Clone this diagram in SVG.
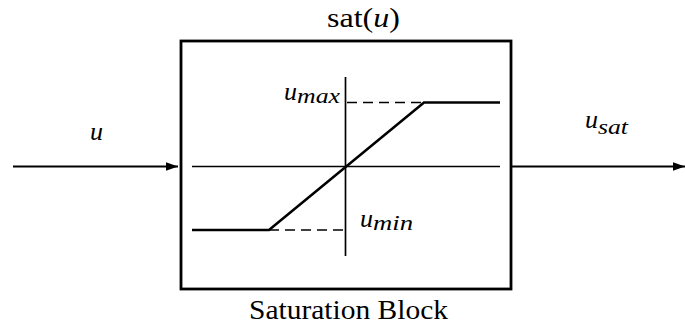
<svg xmlns="http://www.w3.org/2000/svg" width="685" height="327" viewBox="0 0 685 327">
<style>
text{font-family:"Liberation Serif","DejaVu Serif","Noto Serif",Tinos,FreeSerif,"Times New Roman",Times,serif;fill:#000}
.m{font-style:italic}
.rm{font-size:27px}
.ax{stroke:#000;stroke-width:1.7;fill:none}
.curve{stroke:#000;stroke-width:2.6;fill:none}
.dash{stroke:#000;stroke-width:1.7;stroke-dasharray:10,6;fill:none}
.arr{stroke:#000;stroke-width:2.2;fill:none}
</style>
<defs>
<marker id="ah" markerWidth="12" markerHeight="10" refX="12" refY="5" orient="auto" markerUnits="userSpaceOnUse">
<path d="M0,0.8 L12,5 L0,9.2 Z" fill="#000"/>
</marker>
</defs>
<g id="connectors">
<line class="arr" x1="13" y1="166.5" x2="178" y2="166.5" marker-end="url(#ah)"/>
<line class="arr" x1="512" y1="166.5" x2="685" y2="166.5" marker-end="url(#ah)"/>
</g>
<g id="label-u">
<text class="m" x="90" y="140" font-size="26">u</text>
</g>
<g id="label-usat">
<text class="m" x="585" y="128" font-size="26">u</text>
<text class="m" x="598" y="134" font-size="20" textLength="30" lengthAdjust="spacingAndGlyphs">sat</text>
</g>
<g id="block">
<rect x="181" y="41" width="330" height="248" fill="none" stroke="#000" stroke-width="2.8"/>
<text class="rm" x="327" y="27" textLength="73" lengthAdjust="spacingAndGlyphs">sat(<tspan font-style="italic">u</tspan>)</text>
<text class="rm" x="249" y="319" textLength="199" lengthAdjust="spacingAndGlyphs">Saturation Block</text>
</g>
<g id="plot">
<line class="ax" x1="192" y1="166.5" x2="500" y2="166.5"/>
<line class="ax" x1="345.5" y1="77" x2="345.5" y2="256"/>
<line class="dash" x1="347" y1="102.5" x2="424" y2="102.5"/>
<line class="dash" x1="269" y1="230" x2="345" y2="230"/>
<polyline class="curve" points="192,230 269,230 424,102.5 500,102.5"/>
<text class="m" x="284" y="100" font-size="26">u</text>
<text class="m" x="297" y="103" font-size="20" textLength="43" lengthAdjust="spacingAndGlyphs">max</text>
<text class="m" x="360" y="227" font-size="26">u</text>
<text class="m" x="373" y="230" font-size="20" textLength="40" lengthAdjust="spacingAndGlyphs">min</text>
</g>
</svg>
